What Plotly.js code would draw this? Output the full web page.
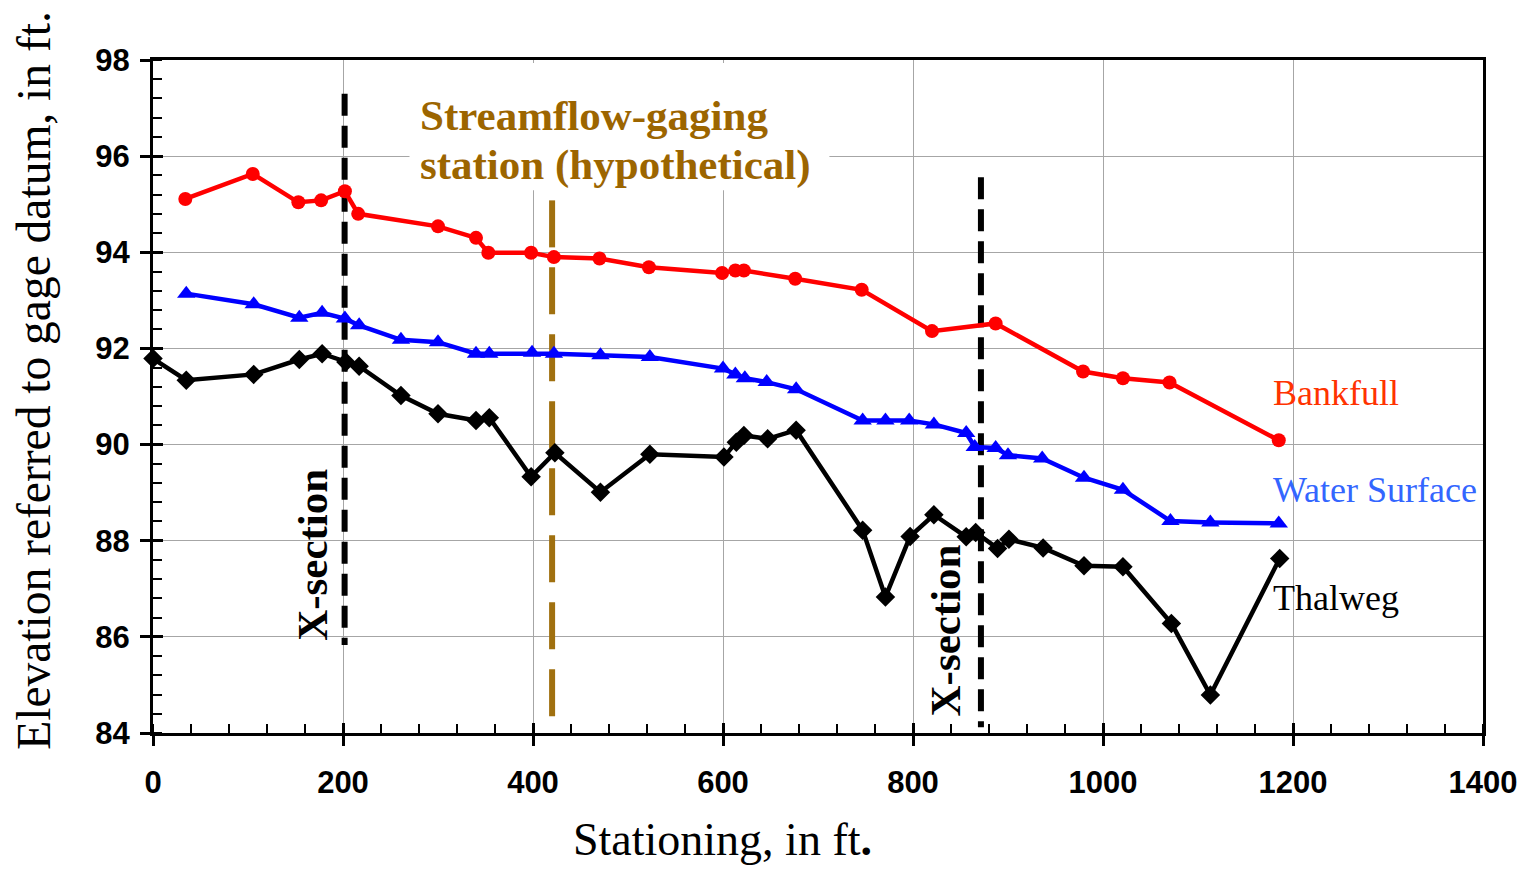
<!DOCTYPE html>
<html>
<head>
<meta charset="utf-8">
<script src="https://cdn.plot.ly/plotly-3.0.1.min.js"></script>
<style>html,body{margin:0;padding:0;background:#fff;}#chart{width:1524px;height:869px;}</style>
</head>
<body>
<div id="chart"></div>
<script>
// ---- data ----
const bankfullX = [34, 105, 153, 177, 202, 216, 300, 340, 353, 398, 422, 470, 522, 599, 613, 622, 676, 746, 820, 887, 979, 1021, 1070, 1185];
const bankfullY = [95.11, 95.63, 95.04, 95.08, 95.27, 94.80, 94.54, 94.30, 93.99, 93.99, 93.90, 93.87, 93.69, 93.57, 93.62, 93.62, 93.45, 93.22, 92.36, 92.52, 91.52, 91.38, 91.29, 90.09];

const waterX = [35, 106, 154, 178, 202, 217, 261, 300, 340, 354, 399, 422, 471, 523, 600, 613, 623, 646, 677, 747, 771, 796, 822, 856, 865, 887, 900, 936, 980, 1021, 1071, 1113, 1185];
const waterY = [93.14, 92.92, 92.64, 92.74, 92.62, 92.48, 92.18, 92.13, 91.89, 91.89, 91.91, 91.89, 91.86, 91.82, 91.58, 91.46, 91.38, 91.30, 91.15, 90.50, 90.50, 90.50, 90.42, 90.24, 89.95, 89.93, 89.78, 89.71, 89.31, 89.06, 88.41, 88.38, 88.36];

const thalwegX = [0, 35, 106, 154, 178, 203, 217, 261, 300, 340, 354, 398, 423, 471, 523, 601, 614, 622, 647, 677, 747, 771, 797, 822, 856, 866, 889, 901, 937, 980, 1021, 1072, 1113, 1186];
const thalwegY = [91.79, 91.34, 91.46, 91.77, 91.89, 91.72, 91.63, 91.02, 90.64, 90.50, 90.56, 89.33, 89.83, 89.01, 89.80, 89.74, 90.05, 90.19, 90.12, 90.30, 88.22, 86.83, 88.09, 88.54, 88.08, 88.17, 87.84, 88.03, 87.85, 87.48, 87.46, 86.28, 84.79, 87.63];

// vertical reference lines: station, top elevation, bottom elevation
const xsection1 = {x: [201.7, 201.7], y: [97.30, 85.83]};
const xsection2 = {x: [871.5, 871.5], y: [95.56, 84.12]};
const gageLine  = {x: [420.1, 420.1], y: [95.08, 84.0]};

const xTicks = [0, 200, 400, 600, 800, 1000, 1200, 1400];
const yTicks = [84, 86, 88, 90, 92, 94, 96, 98];

const seriesNames = ['Bankfull', 'Water Surface', 'Thalweg'];
const gageLines = ['Streamflow-gaging', 'station (hypothetical)'];
const xsText = 'X-section';
const xTitle = 'Stationing, in ft<b>.</b>';
const yTitle = 'Elevation referred to gage datum, in ft.';

// ---- traces ----
const serif = 'Liberation Serif, Times New Roman, serif';
const sans = 'Liberation Sans, Arial, sans-serif';

const traces = [
  {x: xsection1.x, y: xsection1.y, mode: 'lines', line: {color: '#000', width: 6, dash: '22px,10px'}, hoverinfo: 'skip', showlegend: false},
  {x: xsection2.x, y: xsection2.y, mode: 'lines', line: {color: '#000', width: 6, dash: '22px,10px'}, hoverinfo: 'skip', showlegend: false},
  {x: gageLine.x, y: gageLine.y, mode: 'lines', line: {color: '#A0700F', width: 6, dash: '47px,20px'}, hoverinfo: 'skip', showlegend: false},
  {x: bankfullX, y: bankfullY, name: seriesNames[0], mode: 'lines+markers', cliponaxis: false,
   line: {color: '#FF0000', width: 4.5}, marker: {symbol: 'circle', size: 14, color: '#FF0000'}},
  {x: waterX, y: waterY, name: seriesNames[1], mode: 'lines+markers', cliponaxis: false,
   line: {color: '#0000FF', width: 4.5}, marker: {symbol: 'triangle-up', size: 16, color: '#0000FF'}},
  {x: thalwegX, y: thalwegY, name: seriesNames[2], mode: 'lines+markers', cliponaxis: false,
   line: {color: '#000000', width: 4.5}, marker: {symbol: 'diamond', size: 15, color: '#000000'}},
  // helper trace on overlay axes (for the inner half of the crossing major ticks)
  {x: [0], y: [84], xaxis: 'x2', yaxis: 'y2', mode: 'markers', marker: {opacity: 0}, hoverinfo: 'skip', showlegend: false}
];

const layout = {
  width: 1524, height: 869,
  margin: {l: 153, r: 41, t: 60, b: 136},
  paper_bgcolor: '#fff', plot_bgcolor: '#fff',
  showlegend: false,
  xaxis: {
    range: [0, 1400], tickvals: xTicks, ticktext: xTicks.map(String),
    showgrid: true, gridcolor: '#A6A6A6', gridwidth: 1, zeroline: false,
    showline: true, linecolor: '#000', linewidth: 3, mirror: true,
    ticks: 'outside', ticklen: 10, tickwidth: 3, tickcolor: '#000',
    minor: {dtick: 40, tick0: 0, ticks: 'inside', ticklen: 9, tickwidth: 2, tickcolor: '#000', showgrid: false},
    tickfont: {family: sans, size: 31, color: '#000', weight: 'bold'},
    ticklabelstandoff: 10
  },
  yaxis: {
    range: [84, 98], tickvals: yTicks, ticktext: yTicks.map(String),
    showgrid: true, gridcolor: '#A6A6A6', gridwidth: 1, zeroline: false,
    showline: true, linecolor: '#000', linewidth: 3, mirror: true,
    ticks: 'outside', ticklen: 10, tickwidth: 3, tickcolor: '#000',
    minor: {dtick: 0.4, tick0: 84, ticks: 'inside', ticklen: 9, tickwidth: 2, tickcolor: '#000', showgrid: false},
    tickfont: {family: sans, size: 31, color: '#000', weight: 'bold'},
    ticklabelstandoff: 4
  },
  xaxis2: {overlaying: 'x', matches: 'x', anchor: 'y2', side: 'bottom', range: [0, 1400], tickvals: xTicks,
    showticklabels: false, showgrid: false, zeroline: false, showline: false,
    ticks: 'inside', ticklen: 10, tickwidth: 3, tickcolor: '#000'},
  yaxis2: {overlaying: 'y', matches: 'y', anchor: 'x2', side: 'left', range: [84, 98], tickvals: yTicks,
    showticklabels: false, showgrid: false, zeroline: false, showline: false,
    ticks: 'inside', ticklen: 10, tickwidth: 3, tickcolor: '#000'},
  shapes: [
    // white backing box behind the gaging-station label
    {type: 'rect', layer: 'above', xref: 'x', yref: 'y', x0: 270, x1: 712, y0: 95.29, y1: 97.94,
     fillcolor: '#fff', line: {width: 0}}
  ],
  annotations: [
    {xref: 'x', yref: 'y', x: 280, y: 96.85, xanchor: 'left', yanchor: 'middle', align: 'left',
     text: '<b>' + gageLines[0] + '</b>', showarrow: false, borderpad: 0,
     font: {family: serif, size: 43, color: '#9C6500'}},
    {xref: 'x', yref: 'y', x: 280, y: 95.81, xanchor: 'left', yanchor: 'middle', align: 'left',
     text: '<b>' + gageLines[1] + '</b>', showarrow: false, borderpad: 0,
     font: {family: serif, size: 43, color: '#9C6500'}},
    {xref: 'x', yref: 'y', x: 167, y: 87.70, textangle: -90, xanchor: 'center', yanchor: 'middle',
     text: '<b>' + xsText + '</b>', showarrow: false, font: {family: serif, size: 43, color: '#000'}},
    {xref: 'x', yref: 'y', x: 834, y: 86.14, textangle: -90, xanchor: 'center', yanchor: 'middle',
     text: '<b>' + xsText + '</b>', showarrow: false, font: {family: serif, size: 43, color: '#000'}},
    {xref: 'x', yref: 'y', x: 1177, y: 91.07, xanchor: 'left', yanchor: 'middle',
     text: seriesNames[0], showarrow: false, font: {family: serif, size: 36, color: '#FF3300'}},
    {xref: 'x', yref: 'y', x: 1177, y: 89.05, xanchor: 'left', yanchor: 'middle',
     text: seriesNames[1], showarrow: false, font: {family: serif, size: 36, color: '#3366FF'}},
    {xref: 'x', yref: 'y', x: 1177, y: 86.80, xanchor: 'left', yanchor: 'middle',
     text: seriesNames[2], showarrow: false, font: {family: serif, size: 36, color: '#000'}},
    {xref: 'x', yref: 'paper', x: 599, y: -0.158, xanchor: 'center', yanchor: 'middle',
     text: xTitle, showarrow: false, font: {family: serif, size: 46, color: '#000'}},
    {xref: 'paper', yref: 'y', x: -0.089, y: 91.34, xanchor: 'center', yanchor: 'middle', textangle: -90,
     text: yTitle, showarrow: false, font: {family: serif, size: 47.5, color: '#000'}}
  ]
};

Plotly.newPlot('chart', traces, layout, {displayModeBar: false, staticPlot: true});
</script>
</body>
</html>
